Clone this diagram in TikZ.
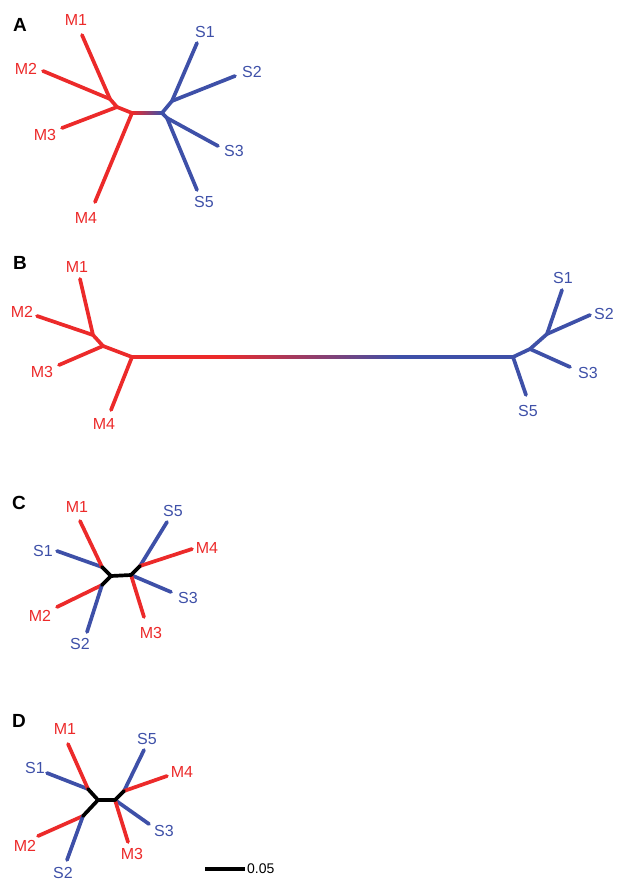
\documentclass[tikz,border=0pt]{standalone}
\usepackage{fontspec}
\setmainfont{Liberation Sans}
\definecolor{tred}{RGB}{236,42,42}
\definecolor{tblue}{RGB}{62,80,168}
\begin{document}
\begin{tikzpicture}[x=1pt,y=-1pt,
  br/.style={line width=3.7pt,line cap=round,line join=round},
  mbr/.style={br,tred},
  sbr/.style={br,tblue},
  ibr/.style={br,black},
  lab/.style={inner sep=0pt,font=\fontsize{16}{16}\selectfont},
  mlab/.style={lab,text=tred},
  slab/.style={lab,text=tblue},
  panel/.style={inner sep=0pt,font=\fontsize{19}{19}\selectfont\bfseries}]
\useasboundingbox (0,0) rectangle (616,882);

% ---------------- Panel A ----------------
\node[panel] (pA) at (20,25) {A};
\coordinate (Aa) at (110,99);
\coordinate (Ab) at (117,107);
\coordinate (Ac) at (132,113);
\coordinate (Ad) at (162,113);
\coordinate (Ae) at (172,101);
\coordinate (Af) at (167,118);
\coordinate (AtM1) at (82,35);
\coordinate (AtM2) at (43,71);
\coordinate (AtM3) at (62,128);
\coordinate (AtM4) at (95,202);
\coordinate (AtS1) at (197,43);
\coordinate (AtS2) at (235,76);
\coordinate (AtS3) at (218,146);
\coordinate (AtS5) at (197,190);
\node[mlab] (AlM1) at (76,20) {M1};
\node[mlab] (AlM2) at (26,69) {M2};
\node[mlab] (AlM3) at (45,135) {M3};
\node[mlab] (AlM4) at (86,218) {M4};
\node[slab] (AlS1) at (205,32) {S1};
\node[slab] (AlS2) at (252,72) {S2};
\node[slab] (AlS3) at (234,151) {S3};
\node[slab] (AlS5) at (204,202) {S5};
\draw[mbr] (AtM1) -- (Aa);
\draw[mbr] (AtM2) -- (Aa);
\draw[mbr] (Aa) -- (Ab);
\draw[mbr] (AtM3) -- (Ab);
\draw[mbr] (Ab) -- (Ac);
\draw[mbr] (AtM4) -- (Ac);
\shade[left color=tred,right color=tblue] ([yshift=1.85pt]Ac) rectangle ([yshift=-1.85pt]Ad);
\draw[sbr] (Ad) -- (Ae);
\draw[sbr] (AtS1) -- (Ae);
\draw[sbr] (AtS2) -- (Ae);
\draw[sbr] (Ad) -- (Af);
\draw[sbr] (AtS3) -- (Af);
\draw[sbr] (AtS5) -- (Af);

% ---------------- Panel B ----------------
\node[panel] (pB) at (20,263) {B};
\coordinate (Ba) at (93,335);
\coordinate (Bb) at (103,346);
\coordinate (Bc) at (132,357);
\coordinate (Bg) at (220,357);
\coordinate (Bh) at (400,357);
\coordinate (Bd) at (513,357);
\coordinate (Be) at (530,349);
\coordinate (Bf) at (547,334);
\coordinate (BtM1) at (80,279);
\coordinate (BtM2) at (37,316);
\coordinate (BtM3) at (59,365);
\coordinate (BtM4) at (111,410);
\coordinate (BtS1) at (562,290);
\coordinate (BtS2) at (590,315);
\coordinate (BtS3) at (570,367);
\coordinate (BtS5) at (526,395);
\node[mlab] (BlM1) at (77,267) {M1};
\node[mlab] (BlM2) at (22,312) {M2};
\node[mlab] (BlM3) at (42,372) {M3};
\node[mlab] (BlM4) at (104,424) {M4};
\node[slab] (BlS1) at (563,278) {S1};
\node[slab] (BlS2) at (604,314) {S2};
\node[slab] (BlS3) at (588,373) {S3};
\node[slab] (BlS5) at (528,411) {S5};
\draw[mbr] (BtM1) -- (Ba);
\draw[mbr] (BtM2) -- (Ba);
\draw[mbr] (Ba) -- (Bb);
\draw[mbr] (BtM3) -- (Bb);
\draw[mbr] (Bb) -- (Bc);
\draw[mbr] (BtM4) -- (Bc);
\draw[mbr] (Bc) -- (Bg);
\shade[left color=tred,right color=tblue] ([yshift=1.85pt]Bg) rectangle ([yshift=-1.85pt]Bh);
\draw[sbr] (Bh) -- (Bd);
\draw[sbr] (BtS5) -- (Bd);
\draw[sbr] (Bd) -- (Be);
\draw[sbr] (BtS3) -- (Be);
\draw[sbr] (Be) -- (Bf);
\draw[sbr] (BtS1) -- (Bf);
\draw[sbr] (BtS2) -- (Bf);

% ---------------- Panel C ----------------
\node[panel] (pC) at (19,503) {C};
\coordinate (Ca) at (102,567);
\coordinate (Cp) at (111,576);
\coordinate (Cq) at (102,585);
\coordinate (Cr) at (131,575);
\coordinate (Cs) at (140,566);
\coordinate (CtM1) at (80,521);
\coordinate (CtS1) at (57,551);
\coordinate (CtM2) at (57,607);
\coordinate (CtS2) at (87,632);
\coordinate (CtS5) at (167,522);
\coordinate (CtM4) at (192,549);
\coordinate (CtS3) at (171,592);
\coordinate (CtM3) at (144,617);
\node[mlab] (ClM1) at (77,507) {M1};
\node[slab] (ClS1) at (43,551) {S1};
\node[mlab] (ClM2) at (40,616) {M2};
\node[slab] (ClS2) at (80,644) {S2};
\node[slab] (ClS5) at (173,511) {S5};
\node[mlab] (ClM4) at (207,548) {M4};
\node[slab] (ClS3) at (188,598) {S3};
\node[mlab] (ClM3) at (151,633) {M3};
\draw[sbr] (CtS1) -- (Ca);
\draw[mbr] (CtM1) -- (Ca);
\draw[mbr] (CtM2) -- (Cq);
\draw[sbr] (CtS2) -- (Cq);
\draw[sbr] (CtS5) -- (Cs);
\draw[mbr] (CtM4) -- (Cs);
\draw[sbr] (CtS3) -- (Cr);
\draw[mbr] (CtM3) -- (Cr);
\draw[ibr] (Ca) -- (Cp) -- (Cq);
\draw[ibr] (Cp) -- (Cr) -- (Cs);

% ---------------- Panel D ----------------
\node[panel] (pD) at (19,721) {D};
\coordinate (Da) at (88,789);
\coordinate (Dp) at (98,800);
\coordinate (Dq) at (83,816);
\coordinate (Dr) at (115,800);
\coordinate (Ds) at (124,791);
\coordinate (DtM1) at (68,744);
\coordinate (DtS1) at (47,773);
\coordinate (DtM2) at (38,836);
\coordinate (DtS2) at (67,860);
\coordinate (DtS5) at (144,750);
\coordinate (DtM4) at (167,776);
\coordinate (DtS3) at (149,824);
\coordinate (DtM3) at (128,842);
\node[mlab] (DlM1) at (65,729) {M1};
\node[slab] (DlS1) at (35,768) {S1};
\node[mlab] (DlM2) at (25,846) {M2};
\node[slab] (DlS2) at (63,873) {S2};
\node[slab] (DlS5) at (147,739) {S5};
\node[mlab] (DlM4) at (182,772) {M4};
\node[slab] (DlS3) at (164,831) {S3};
\node[mlab] (DlM3) at (132,854) {M3};
\draw[sbr] (DtS1) -- (Da);
\draw[mbr] (DtM1) -- (Da);
\draw[mbr] (DtM2) -- (Dq);
\draw[sbr] (DtS2) -- (Dq);
\draw[sbr] (DtS5) -- (Ds);
\draw[mbr] (DtM4) -- (Ds);
\draw[sbr] (DtS3) -- (Dr);
\draw[mbr] (DtM3) -- (Dr);
\draw[ibr] (Da) -- (Dp) -- (Dq);
\draw[ibr] (Dp) -- (Dr) -- (Ds);

% ---------------- Scale bar ----------------
\coordinate (sbL) at (205,869);
\coordinate (sbR) at (245,869);
\draw[line width=3.2pt] (sbL) -- (sbR);
\node[inner sep=0pt,anchor=west,font=\fontsize{14}{14}\selectfont] (sbT) at (247,869) {0.05};
\end{tikzpicture}
\end{document}
